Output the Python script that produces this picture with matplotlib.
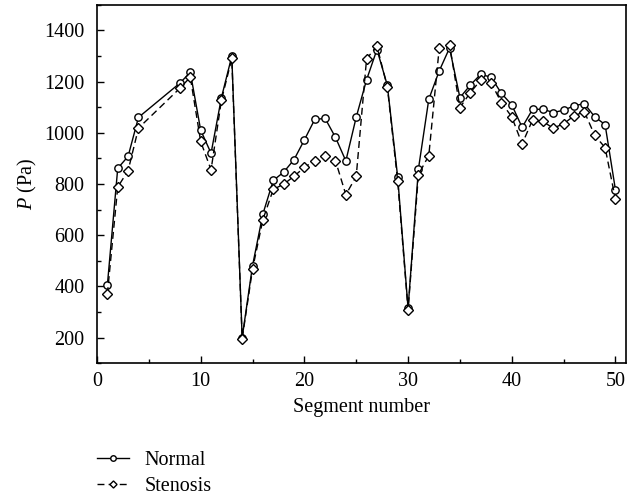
import matplotlib
matplotlib.use("Agg")
import matplotlib.pyplot as plt
from matplotlib.ticker import MultipleLocator

plt.rcParams['font.family'] = ['Liberation Serif', 'DejaVu Serif']
plt.rcParams['mathtext.fontset'] = 'custom'
plt.rcParams['mathtext.rm'] = 'Liberation Serif'
plt.rcParams['mathtext.it'] = 'Liberation Serif:italic'

segments = [1, 2, 3, 4, 8, 9, 10, 11, 12, 13, 14, 15, 16, 17, 18, 19, 20,
            21, 22, 23, 24, 25, 26, 27, 28, 29, 30, 31, 32, 33, 34, 35, 36,
            37, 38, 39, 40, 41, 42, 43, 44, 45, 46, 47, 48, 49, 50]
normal = [405, 861, 908, 1060, 1194, 1236, 1010, 920, 1137, 1299, 200, 481,
          683, 814, 846, 895, 972, 1052, 1056, 982, 890, 1061, 1207, 1325,
          1185, 826, 315, 859, 1131, 1241, 1331, 1137, 1186, 1228, 1217,
          1154, 1109, 1021, 1091, 1092, 1079, 1088, 1105, 1114, 1062, 1032, 777]
stenosis = [370, 788, 852, 1018, 1174, 1217, 966, 855, 1127, 1290, 196, 468,
            661, 779, 799, 830, 865, 891, 910, 891, 758, 830, 1289, 1338,
            1179, 811, 308, 837, 911, 1329, 1344, 1098, 1157, 1205, 1195,
            1118, 1062, 956, 1050, 1044, 1018, 1035, 1066, 1082, 990, 942, 740]

FS = 14.5

fig = plt.figure(figsize=(6.36, 4.98), dpi=100)
ax = fig.add_axes([0.1525, 0.2705, 0.984 - 0.1525, 0.9906 - 0.2705])

ln1, = ax.plot(segments, normal, '-', color='black', lw=1.0, marker='o',
               markersize=5.3, markerfacecolor='white', markeredgecolor='black',
               markeredgewidth=1.0, label='Normal')
ln2, = ax.plot(segments, stenosis, '--', color='black', lw=1.0, marker='D',
               markersize=4.8, markerfacecolor='white', markeredgecolor='black',
               markeredgewidth=1.0, dashes=(5, 3), label='Stenosis')

ax.set_xlim(0, 51)
ax.set_ylim(100, 1500)
ax.xaxis.set_major_locator(MultipleLocator(10))
ax.xaxis.set_minor_locator(MultipleLocator(5))
ax.yaxis.set_minor_locator(MultipleLocator(100))
ax.set_yticks([200, 400, 600, 800, 1000, 1200, 1400])
ax.tick_params(which='both', direction='in', labelsize=FS)
ax.tick_params(which='major', length=5, width=1)
ax.tick_params(which='minor', length=3, width=1)
ax.tick_params(axis='x', pad=6)
ax.tick_params(axis='y', pad=9)
for s in ax.spines.values():
    s.set_linewidth(1.2)

ax.set_xlabel('Segment number', fontsize=FS, labelpad=5)
ax.set_ylabel('$P$ (Pa)', fontsize=FS, labelpad=4)

leg = fig.legend(handles=[ln1, ln2], loc='upper left',
                 bbox_to_anchor=(0.1525, 0.094), frameon=False,
                 fontsize=FS, handlelength=1.6, handletextpad=0.75,
                 labelspacing=0.32, markerscale=0.75, borderaxespad=0,
                 borderpad=0)

fig.savefig('out.png', dpi=100)
